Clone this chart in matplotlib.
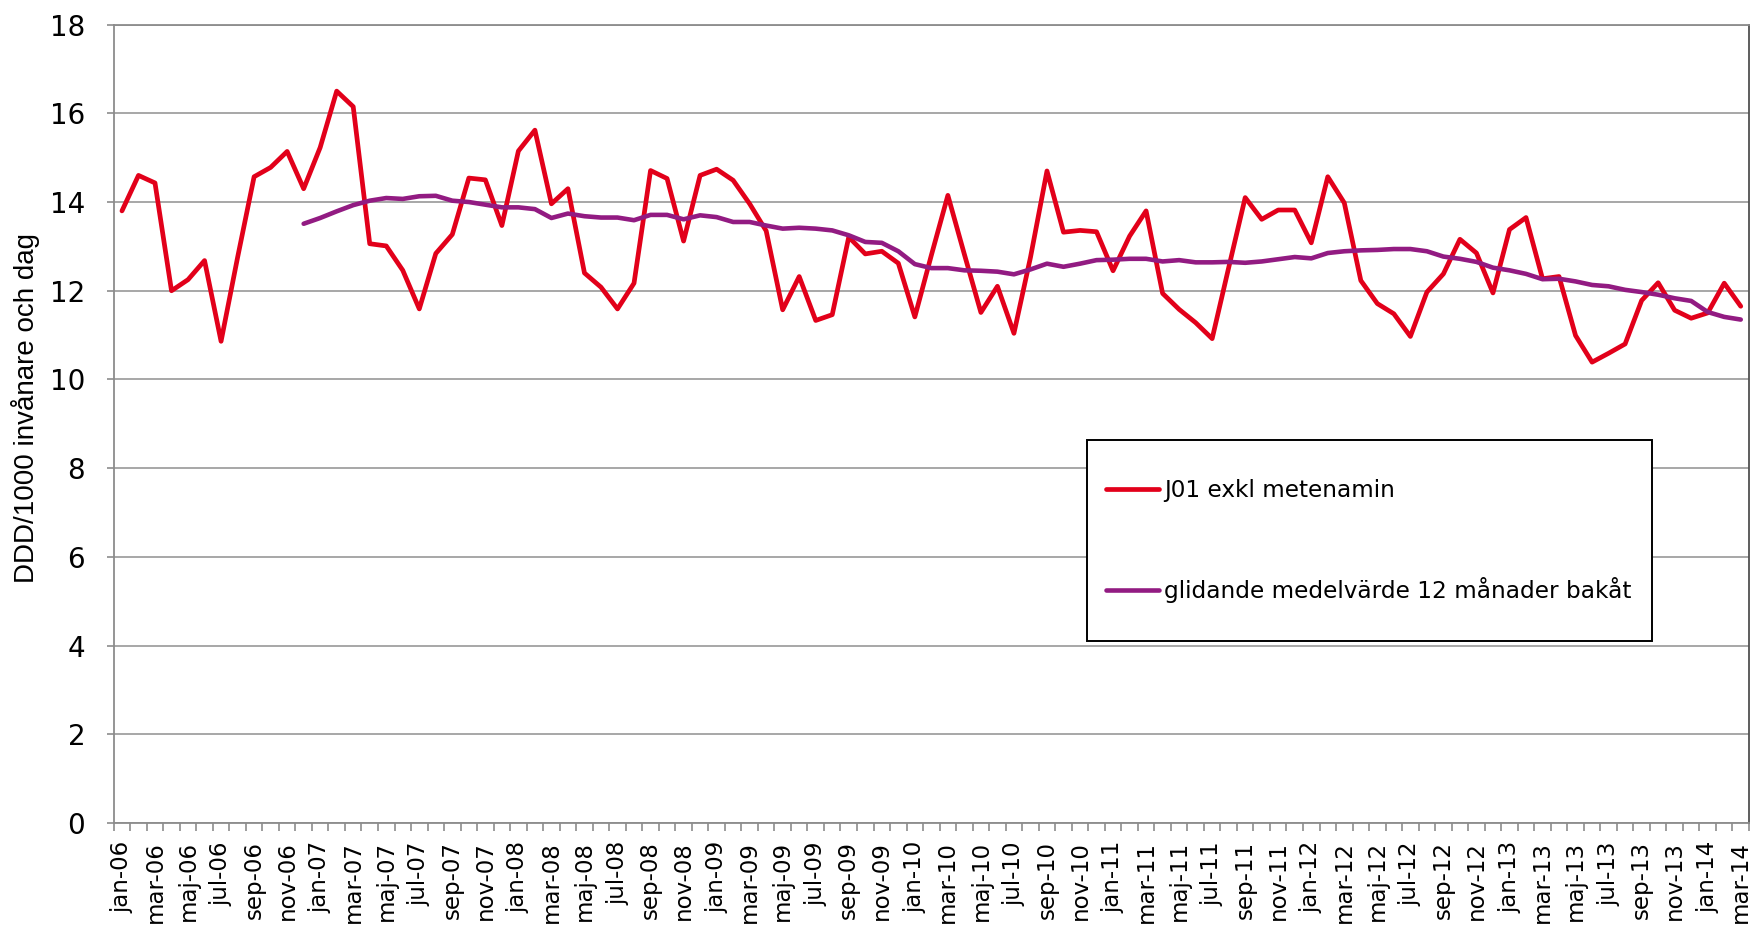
import matplotlib
matplotlib.use("Agg")
import matplotlib.pyplot as plt
from matplotlib.patches import Rectangle
import numpy as np

# ---- data ----
month_names = ["jan", "feb", "mar", "apr", "maj", "jun", "jul", "aug", "sep", "okt", "nov", "dec"]
years = ["06", "07", "08", "09", "10", "11", "12", "13", "14"]
categories = [f"{m}-{y}" for y in years for m in month_names][:99]  # jan-06 .. mar-14

j01 = [13.80, 14.60, 14.43, 12.00, 12.25, 12.68, 10.86, 12.75, 14.57, 14.78, 15.14, 14.30,
       15.23, 16.50, 16.15, 13.06, 13.01, 12.46, 11.59, 12.84, 13.27, 14.54, 14.50, 13.47,
       15.15, 15.62, 13.96, 14.30, 12.40, 12.08, 11.59, 12.17, 14.71, 14.53, 13.12, 14.60,
       14.74, 14.49, 13.96, 13.35, 11.57, 12.32, 11.33, 11.46, 13.21, 12.83, 12.89, 12.62,
       11.41, 12.80, 14.15, 12.82, 11.51, 12.10, 11.04, 12.75, 14.70, 13.32, 13.36, 13.33,
       12.45, 13.23, 13.80, 11.94, 11.58, 11.28, 10.92, 12.52, 14.10, 13.61, 13.82, 13.82,
       13.08, 14.57, 13.98, 12.23, 11.71, 11.48, 10.97, 11.97, 12.38, 13.16, 12.85, 11.95,
       13.38, 13.65, 12.27, 12.32, 10.99, 10.39, 10.59, 10.80, 11.78, 12.18, 11.56, 11.38,
       11.50, 12.17, 11.65]

# 12-month moving average, starting at dec-06
ma_start = 11
moving_avg = [13.51,
              13.64, 13.79, 13.93, 14.03, 14.09, 14.07, 14.13, 14.14, 14.03, 14.00, 13.94, 13.88,
              13.88, 13.84, 13.64, 13.74, 13.68, 13.65, 13.65, 13.59, 13.71, 13.71, 13.61, 13.70,
              13.66, 13.55, 13.55, 13.47, 13.40, 13.42, 13.40, 13.36, 13.25, 13.10, 13.08, 12.89,
              12.60, 12.51, 12.51, 12.46, 12.45, 12.43, 12.37, 12.48, 12.61, 12.54, 12.61, 12.69,
              12.70, 12.72, 12.72, 12.66, 12.69, 12.64, 12.64, 12.65, 12.63, 12.66, 12.71, 12.76,
              12.73, 12.85, 12.89, 12.91, 12.92, 12.94, 12.94, 12.89, 12.77, 12.72, 12.65, 12.52,
              12.46, 12.38, 12.26, 12.27, 12.21, 12.13, 12.10, 12.02, 11.97, 11.91, 11.83, 11.77,
              11.52, 11.41, 11.35]

label_j01 = "J01 exkl metenamin"
label_ma = "glidande medelvärde 12 månader bakåt"
ylabel = "DDD/1000 invånare och dag"
yticks = [0, 2, 4, 6, 8, 10, 12, 14, 16, 18]

# ---- figure ----
W, H = 1756, 925
fig = plt.figure(figsize=(W / 100, H / 100), dpi=100)
fig.patch.set_facecolor("white")

ax_l, ax_r, ax_t, ax_b = 113.7, 1749, 24.6, 823
ax = fig.add_axes([ax_l / W, 1 - ax_b / H, (ax_r - ax_l) / W, (ax_b - ax_t) / H])

x = np.arange(len(j01))
x_ma = np.arange(ma_start, ma_start + len(moving_avg))

red = "#E2001A"
purple = "#921B82"
ax.plot(x, j01, color=red, lw=3.4, solid_joinstyle="round", solid_capstyle="round",
        label=label_j01, zorder=3)
ax.plot(x_ma, moving_avg, color=purple, lw=3.3, solid_joinstyle="round",
        solid_capstyle="round", label=label_ma, zorder=4)

ax.set_xlim(-0.5, len(j01) - 0.5)
ax.set_ylim(0, 18)
ax.set_yticks(yticks)
ax.yaxis.grid(True, color="#a0a0a0", lw=1.3)
ax.set_axisbelow(True)

ax.set_xticks(x[::2])
ax.set_xticklabels(categories[::2], rotation=90, fontsize=16.5, family="DejaVu Sans")
ax.set_xticks(np.arange(-0.5, len(j01), 1), minor=True)
ax.tick_params(axis="x", which="major", length=0, pad=13)
ax.tick_params(axis="x", which="minor", length=6, width=1.2, color="#8c8c8c")
ax.tick_params(axis="y", length=5, width=1.2, color="#8c8c8c", pad=15.5, labelsize=20)

for side in ["left", "bottom", "top"]:
    ax.spines[side].set_color("#8c8c8c")
    ax.spines[side].set_linewidth(1.3)
ax.spines["right"].set_color("#505050")
ax.spines["right"].set_linewidth(1.3)

fig.text(25.7 / W, 1 - 408 / H, ylabel, rotation=90, ha="center", va="center",
         fontsize=20, family=["Liberation Sans", "DejaVu Sans"])

# legend box
bx0, bx1, by0, by1 = 1086.7, 1651.6, 440, 640.7
rect = Rectangle((bx0 / W, 1 - by1 / H), (bx1 - bx0) / W, (by1 - by0) / H,
                 transform=fig.transFigure, facecolor="white", edgecolor="black",
                 lw=1.4, zorder=2)
fig.add_artist(rect)
handles, labels = ax.get_legend_handles_labels()
fs = 16.7
fs_px = fs * 100 / 72
leg = fig.legend(handles, labels, loc="center left",
                 bbox_to_anchor=(1105.9 / W, 1 - (490 + 591.7) / 2 / H),
                 bbox_transform=fig.transFigure, frameon=False, borderpad=0,
                 borderaxespad=0, handlelength=53.6 / fs_px,
                 handletextpad=4.8 / fs_px, labelspacing=74.7 / fs_px,
                 prop={"family": "DejaVu Sans", "size": fs})
leg.set_zorder(5)

fig.savefig("out.png", dpi=100, facecolor="white")
